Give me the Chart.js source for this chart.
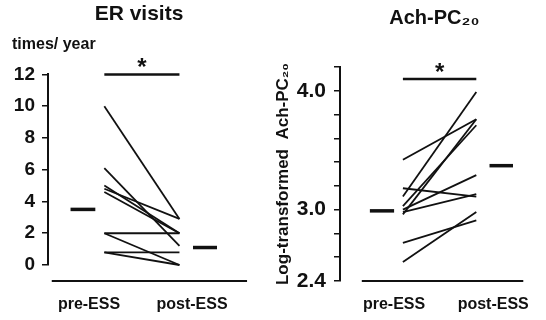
<!DOCTYPE html>
<html lang="en">
<head>
<meta charset="UTF-8">
<title>ER visits and Ach-PC20, pre- vs post-ESS</title>
<script src="https://cdn.jsdelivr.net/npm/chart.js"></script>
<style>
  body { margin: 0; background: #fff; }
  .panel { position: absolute; top: 0; }
</style>
</head>
<body>
<div class="panel" style="left:0"><canvas id="erChart" width="270" height="320"></canvas></div>
<div class="panel" style="left:270px"><canvas id="achChart" width="276" height="320"></canvas></div>
<script>
const categories = ['pre-ESS', 'post-ESS'];

// ER visits (times/year), one entry per patient
const erPre  = [10, 6.1, 5.0, 4.8, 4.6, 2.0, 2.0, 0.8, 0.8];
const erPost = [2.9, 1.2, 2.0, 2.9, 2.0, 2.0, 0.0, 0.8, 0.0];
const erMeans = [3.5, 1.1];
const erSigLevel = 12;
const erFloor = -1.0;

// log-transformed Ach-PC20, one entry per patient
const achPre  = [3.42, 3.18, 3.11, 3.03, 3.00, 2.98, 2.96, 2.72, 2.56];
const achPost = [3.76, 3.11, 3.99, 3.71, 3.29, 3.13, 3.76, 2.91, 2.98];
const achMeans = [2.99, 3.37];
const achTickLabels = [2.4, 3.0, 4.0];
const achSigLevel = 4.1;

// horizontal slots: patients sit at 1 (pre) and 2 (post)
const meanBarPre = [0.55, 0.88];
const meanBarPost = [2.18, 2.5];

const FONT = '"Liberation Sans", Arial, Helvetica, sans-serif';
const INK = '#111';

function seg(x0, x1, y0, y1, width) {
  return {
    data: [{x: x0, y: y0}, {x: x1, y: y1}],
    borderColor: INK, borderWidth: width,
    showLine: true, pointRadius: 0, clip: false
  };
}

function buildDatasets(pre, post, means, sigLevel, floorY, floorX) {
  const sets = pre.map((v, i) => seg(1, 2, v, post[i], 1.8));
  sets.push(seg(meanBarPre[0], meanBarPre[1], means[0], means[0], 3.5));
  sets.push(seg(meanBarPost[0], meanBarPost[1], means[1], means[1], 3.5));
  sets.push(seg(1, 2, sigLevel, sigLevel, 2.5));
  sets.push(seg(floorX[0], floorX[1], floorY, floorY, 2));
  return sets;
}

// draws the asterisk over the significance bar
const sigStar = {
  id: 'sigStar',
  afterDatasetsDraw(chart, args, opts) {
    const {ctx, scales} = chart;
    ctx.save();
    ctx.font = 'bold 24px ' + FONT;
    ctx.fillStyle = INK;
    ctx.textAlign = 'center';
    ctx.textBaseline = 'alphabetic';
    ctx.fillText('*', scales.x.getPixelForValue(1.5), scales.y.getPixelForValue(opts.level) + 1);
    ctx.restore();
  }
};

function xAxis(min, max, labelPos, pad, height) {
  return {
    type: 'linear', min: min, max: max,
    afterFit: s => { s.height = height; },
    grid: {display: false, drawTicks: false},
    border: {display: false},
    afterBuildTicks: s => { s.ticks = labelPos.map(v => ({value: v})); },
    ticks: {
      autoSkip: false, maxRotation: 0, padding: pad,
      color: INK, font: {family: FONT, size: 16, weight: 'bold'},
      callback: (v, i) => categories[i]
    }
  };
}

new Chart(document.getElementById('erChart'), {
  type: 'scatter',
  data: {datasets: buildDatasets(erPre, erPost, erMeans, erSigLevel, erFloor, [0.3, 2.9])},
  plugins: [sigStar],
  options: {
    responsive: false, animation: false, devicePixelRatio: 1,
    layout: {padding: {left: 12, right: 40, top: 0, bottom: 5}},
    plugins: {
      legend: {display: false}, tooltip: {enabled: false},
      title: {display: true, text: 'ER visits', fullSize: false, color: INK,
        font: {family: FONT, size: 21, weight: 'bold'}, padding: {top: 2, bottom: 4}},
      subtitle: {display: true, text: 'times/ year', align: 'start', color: INK,
        font: {family: FONT, size: 16, weight: 'bold'}, padding: {top: 4, bottom: 20}},
      sigStar: {level: erSigLevel}
    },
    scales: {
      x: xAxis(0.25, 2.673, [0.796, 2.167], 30, 50),
      y: {
        min: 0, max: 12,
        afterFit: s => { s.width = 36; },
        grid: {drawOnChartArea: false, drawTicks: true, tickLength: 6, color: INK, lineWidth: 1.5},
        border: {display: true, color: INK, width: 2},
        ticks: {stepSize: 2, autoSkip: false, padding: 7, color: INK, font: {family: FONT, size: 19, weight: 'bold'}}
      }
    }
  }
});

new Chart(document.getElementById('achChart'), {
  type: 'scatter',
  data: {datasets: buildDatasets(achPre, achPost, achMeans, achSigLevel, 2.4, [0.44, 2.64])},
  plugins: [sigStar],
  options: {
    responsive: false, animation: false, devicePixelRatio: 1,
    layout: {padding: {left: 0, right: 8, top: 0, bottom: 5}},
    plugins: {
      legend: {display: false}, tooltip: {enabled: false},
      title: {display: true, text: 'Ach-PC\u2082\u2080', fullSize: false, color: INK,
        font: {family: FONT, size: 20, weight: 'bold'}, padding: {top: 6, bottom: 37}},
      sigStar: {level: achSigLevel}
    },
    scales: {
      x: xAxis(0.143, 2.714, [0.88, 2.23], 14, 34),
      y: {
        min: 2.4, max: 4.2,
        afterFit: s => { s.width = 70; },
        title: {display: true, text: 'Log-transformed  Ach-PC\u2082\u2080', color: INK,
          font: {family: FONT, size: 17, weight: 'bold'}, padding: {top: 3, bottom: 0}},
        grid: {drawOnChartArea: false, drawTicks: true, tickLength: 6, color: INK, lineWidth: 1.5},
        border: {display: true, color: INK, width: 2},
        ticks: {
          stepSize: 0.2, autoSkip: false, padding: 8, color: INK, font: {family: FONT, size: 21, weight: 'bold'},
          callback: v => achTickLabels.some(t => Math.abs(t - v) < 1e-6) ? v.toFixed(1) : ''
        }
      }
    }
  }
});
</script>
</body>
</html>
